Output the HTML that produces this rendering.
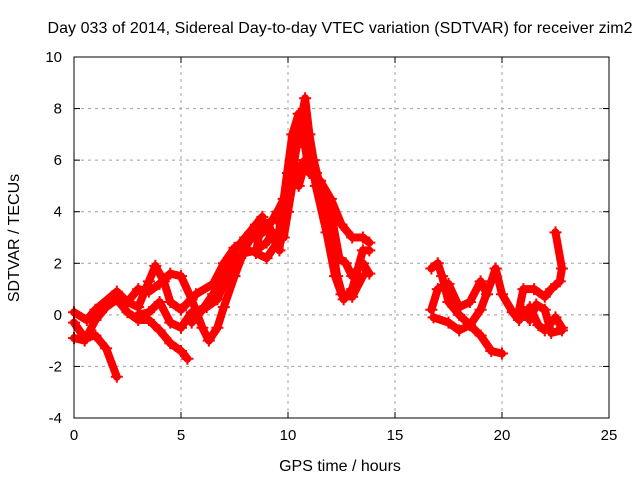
<!DOCTYPE html>
<html><head><meta charset="utf-8"><style>
body{margin:0;background:#fff;}
svg{display:block;font-family:"Liberation Sans",sans-serif;}
</style></head><body>
<svg id="chart" width="640" height="480">
<text x="340" y="33" font-size="16" text-anchor="middle" textLength="585">Day 033 of 2014, Sidereal Day-to-day VTEC variation (SDTVAR) for receiver zim2</text>
<text x="340" y="471" font-size="16" text-anchor="middle">GPS time / hours</text>
<text x="0" y="0" font-size="16" text-anchor="middle" transform="translate(19,238) rotate(-90)">SDTVAR / TECUs</text>
<g id="grid"></g><g id="marks"></g>
<rect x="74" y="57" width="535" height="361" fill="none" stroke="#000" stroke-width="1"/>
</svg>
<script>
const xTicks=[0,5,10,15,20,25];
const yTicks=[-4,-2,0,2,4,6,8,10];
const trackA=[[0,-0.3],[0.5,-0.9],[1,-0.8],[1.5,-1.3],[2,-2.4]];
const trackB=[[0,0.1],[0.6,-0.2],[1,0.2],[2,0.9],[2.5,0.5],[3,0.3],[3.5,1.3],[3.8,1.9],[4.2,1.3],[4.5,0.5],[5,0.2],[5.7,0.8],[6.5,1.2],[7,2],[7.5,2.6],[8,2.9],[8.5,3],[9,3.3],[9.5,4],[10,4.8],[10.3,6],[10.6,7.5],[10.8,8.4],[11,7],[11.2,6],[11.5,5],[12,3],[12.3,1.5],[12.6,0.6],[13,1],[13.5,2.5],[13.8,2.5]];
const trackC=[[0,-0.9],[0.5,-1],[1,-0.2],[1.5,0.3],[2,0.6],[2.5,0.1],[3,-0.2],[3.5,-0.2],[4,-0.6],[4.5,-1.1],[5,-1.4],[5.3,-1.7]];
const trackD=[[2.5,0.5],[3,1],[3.5,0.9],[4,1.2],[4.5,1.6],[5,1.5],[5.5,0.6],[6,-0.5],[6.3,-1],[6.7,-0.5],[7,0.3],[7.5,1.5],[8,2.6],[8.5,3.3],[9,3.5],[9.5,3.8],[9.8,3],[10,4],[10.3,5.5],[10.8,6],[11.3,5.5],[12,4],[12.4,2.2],[12.7,2],[13,1.5],[13.5,2],[13.8,1.6]];
const trackE=[[3,0],[3.5,0.1],[4,0.5],[4.5,-0.3],[5,-0.5],[5.5,0.1],[6.2,0.3],[6.7,0.6],[7,1.2],[7.5,2.2],[8,2.4],[8.5,2.5],[9,2.8],[9.3,3.2],[9.6,2.5],[9.8,4.5],[10.2,7],[10.5,7.8],[10.8,6.5],[11,5.5],[11.5,5.2],[12,4.5],[12.5,3.5],[13,3],[13.5,3],[13.8,2.8]];
const trackF=[[5.5,-0.3],[6,0.2],[6.5,0.8],[7,1.5],[7.5,2.5],[8,3],[8.5,3.5],[8.8,3.8],[8.5,2.4],[9,2.2],[9.5,2.8],[10,5.5],[10.5,5],[11,6.5],[11.3,5],[11.8,3.2],[12.2,1.5],[12.5,0.8],[13,0.7],[13.5,1.5]];
const trackG=[[16.7,1.8],[17,2],[17.2,1.5],[17.5,0.5],[18,0],[18.5,-0.4],[19,-0.8],[19.5,-1.4],[20,-1.5]];
const trackH=[[16.7,0.2],[17,1],[17.5,1.2],[18,0.3],[18.5,0.5],[19,1.3],[19.3,0.8]];
const trackI=[[16.8,-0.1],[17.5,-0.3],[18,-0.6],[18.5,-0.4],[19,0.2],[19.5,1.3],[19.7,1.8],[20,0.8],[20.5,0.1],[20.8,-0.2],[21,0.2],[21.3,-0.2],[21.6,0.4],[22,0.2],[22.3,-0.7],[22.8,-0.6]];
const trackJ=[[20.8,0.2],[21,1],[21.5,1],[22,0.7],[22.3,1],[22.7,1.3],[22.8,1.8],[22.5,3.2]];
const trackK=[[21.3,0.3],[21.7,-0.4],[22,-0.6],[22.5,-0.1],[22.8,-0.5]];
const tracks=[trackA,trackB,trackC,trackD,trackE,trackF,trackG,trackH,trackI,trackJ,trackK];

const X0=74,X1=609,Y0=418,Y1=57,XMIN=0,XMAX=25,YMIN=-4,YMAX=10;
const sx=v=>X0+(v-XMIN)/(XMAX-XMIN)*(X1-X0);
const sy=v=>Y0-(v-YMIN)/(YMAX-YMIN)*(Y0-Y1);
const NS="http://www.w3.org/2000/svg";
const grid=document.getElementById('grid'),marks=document.getElementById('marks');
function mk(tag,attrs,parent){const e=document.createElementNS(NS,tag);for(const k in attrs)e.setAttribute(k,attrs[k]);parent.appendChild(e);return e;}
xTicks.forEach(t=>{const x=sx(t);
 if(t>XMIN&&t<XMAX){const g=mk('line',{x1:x,x2:x,y1:Y0,y2:Y1,stroke:'#a0a0a0','stroke-dasharray':'3,4'},grid);
 
 }
 mk('line',{x1:x,x2:x,y1:Y0,y2:Y0-6,stroke:'#000'},grid);
 mk('line',{x1:x,x2:x,y1:Y1,y2:Y1+6,stroke:'#000'},grid);
 const l=mk('text',{x:x,y:Y0+22,'font-size':15,'text-anchor':'middle'},grid);l.textContent=t;
 
 });
yTicks.forEach(t=>{const y=sy(t);
 if(t>YMIN&&t<YMAX){const g=mk('line',{x1:X0,x2:X1,y1:y,y2:y,stroke:'#a0a0a0','stroke-dasharray':'3,4'},grid);
 
 }
 mk('line',{x1:X0,x2:X0+6,y1:y,y2:y,stroke:'#000'},grid);
 mk('line',{x1:X1,x2:X1-6,y1:y,y2:y,stroke:'#000'},grid);
 const l=mk('text',{x:X0-12,y:y+5,'font-size':15,'text-anchor':'end'},grid);l.textContent=t;
 
 });
tracks.forEach((tr,i)=>{
 const p=mk('polyline',{points:tr.map(d=>sx(d[0])+','+sy(d[1])).join(' '),fill:'none',stroke:'#f00','stroke-width':8,'stroke-linejoin':'round','stroke-linecap':'round'},marks);
 
 
 tr.forEach(d=>{const x=sx(d[0]),y=sy(d[1]);
  const m=mk('path',{d:`M${x-6},${y}H${x+6}M${x},${y-6}V${y+6}`,stroke:'#f00','stroke-width':2},marks);
  
  });
});
</script>
</body></html>
